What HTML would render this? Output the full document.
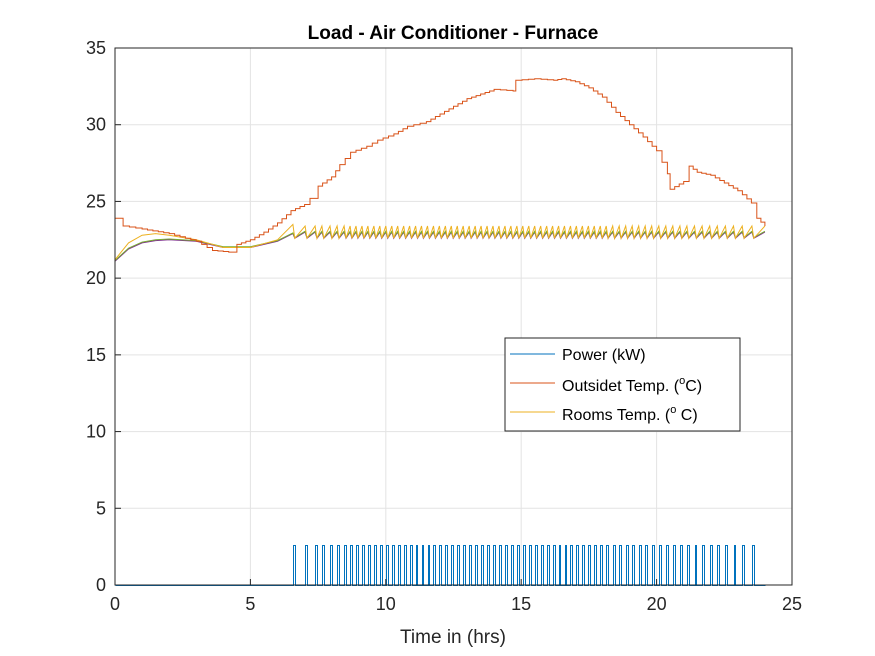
<!DOCTYPE html>
<html><head><meta charset="utf-8"><style>
body{margin:0;background:#fff;width:875px;height:656px;overflow:hidden}
svg{display:block;font-family:"Liberation Sans",Arial,sans-serif}
</style></head><body>
<svg id="chart" width="875" height="656" viewBox="0 0 875 656">
<rect x="0" y="0" width="875" height="656" fill="#fff"/>
<text x="453" y="39" text-anchor="middle" font-size="19" font-weight="bold" fill="#000">Load - Air Conditioner - Furnace</text>
<g id="grid"></g><g id="series"></g><g id="axes"></g>
<text x="453" y="643" text-anchor="middle" font-size="19" fill="#262626">Time in (hrs)</text>
<g>
<rect x="505" y="338" width="235" height="93" fill="#fff" stroke="#262626" stroke-width="1"/>
<g><line x1="510" y1="354" x2="555" y2="354" stroke="#0072BD"/><text x="562" y="360" font-size="16" fill="#000">Power (kW)</text></g>
<g><line x1="510" y1="383" x2="555" y2="383" stroke="#D95319"/><text x="562" y="391" font-size="16" fill="#000">Outsidet Temp. (<tspan dy="-7" font-size="11">o</tspan><tspan dy="7">C)</tspan></text></g>
<g><line x1="510" y1="412" x2="555" y2="412" stroke="#EDB120"/><text x="562" y="420" font-size="16" fill="#000">Rooms Temp. (<tspan dy="-7" font-size="11">o</tspan><tspan dy="7"> C)</tspan></text></g>
</g>
</svg>
<script>
const xTicks=[0,5,10,15,20,25];
const yTicks=[0,5,10,15,20,25,30,35];
const pulseTimes=[6.57,7.02,7.39,7.64,7.94,8.20,8.46,8.68,8.90,9.12,9.34,9.56,9.78,10.00,10.22,10.44,10.66,10.88,11.10,11.32,11.54,11.76,11.98,12.20,12.42,12.64,12.86,13.08,13.30,13.52,13.74,13.96,14.18,14.40,14.62,14.84,15.06,15.28,15.50,15.72,15.94,16.16,16.38,16.60,16.82,17.04,17.26,17.48,17.70,17.92,18.14,18.38,18.62,18.86,19.10,19.34,19.58,19.82,20.08,20.34,20.60,20.86,21.12,21.40,21.68,21.96,22.24,22.54,22.84,23.16,23.52];
const pulseHeight=2.6;
const pulseWidth=0.07;
const outsideT=[0,0.3,1,2,3,3.6,4.2,4.5,5,5.5,6,6.5,7,7.2,7.5,8,8.3,8.7,9.3,9.7,10.3,10.8,11.5,12,12.5,13,13.5,14,14.7,14.8,15.5,16.2,16.5,17,17.5,18,18.5,19,19.5,20,20.4,20.5,21,21.2,21.5,22,22.5,23,23.5,23.7,24];
const outsideV=[23.9,23.4,23.2,22.9,22.4,21.8,21.7,22.2,22.5,23.0,23.6,24.4,24.8,25.2,26.0,26.6,27.4,28.2,28.6,29.0,29.4,29.9,30.2,30.7,31.2,31.7,32.0,32.3,32.2,32.9,33.0,32.9,33.0,32.8,32.4,31.8,30.8,30.0,29.2,28.3,26.8,25.8,26.3,27.3,26.9,26.7,26.2,25.7,24.9,23.9,23.4];
const roomStartT=[0,0.5,1,1.5,2,3,4,5,6,6.57];
const roomYellowV=[21.2,22.3,22.8,22.9,22.8,22.5,22.0,22.0,22.5,23.5];
const roomDarkV=[21.1,21.9,22.3,22.45,22.5,22.4,22.0,22.0,22.4,22.9];
const yellowHigh=23.4, yellowLow=22.6, darkHigh=23.0, darkLow=22.6;

const X0=115,X1=792,Y0=585,Y1=48;
const xs=v=>X0+(v/25)*(X1-X0);
const ys=v=>Y0-(v/35)*(Y0-Y1);
const NS="http://www.w3.org/2000/svg";
function mk(tag,attrs,parent){const e=document.createElementNS(NS,tag);for(const k in attrs)e.setAttribute(k,attrs[k]);document.getElementById(parent).appendChild(e);return e;}

xTicks.forEach(t=>{
  const g=mk('line',{x1:xs(t),x2:xs(t),y1:Y1,y2:Y0,stroke:'#e3e3e3','stroke-width':1},'grid');
  
  
  const tk=mk('line',{x1:xs(t),x2:xs(t),y1:Y0,y2:Y0-6,stroke:'#262626'},'axes');
  
  
  const l=mk('text',{x:xs(t),y:Y0+25,'text-anchor':'middle','font-size':18,fill:'#262626'},'axes');
  l.textContent=t;
  
  
});
yTicks.forEach(t=>{
  const g=mk('line',{x1:X0,x2:X1,y1:ys(t),y2:ys(t),stroke:'#e3e3e3','stroke-width':1},'grid');
  
  
  const tk=mk('line',{x1:X0,x2:X0+6,y1:ys(t),y2:ys(t),stroke:'#262626'},'axes');
  
  
  const l=mk('text',{x:X0-9,y:ys(t)+6,'text-anchor':'end','font-size':18,fill:'#262626'},'axes');
  l.textContent=t;
  
  
});
const box=mk('rect',{x:X0,y:Y1,width:X1-X0,height:Y0-Y1,fill:'none',stroke:'#262626','stroke-width':1},'axes');



function poly(pts,color,name,snap){
  const f=snap?(v=>(Math.round(v)+0.5).toFixed(1)):(v=>v.toFixed(1));
  const p=mk('polyline',{points:pts.map(q=>f(xs(q[0]))+','+f(ys(q[1]))).join(' '),fill:'none',stroke:color,'stroke-width':1},'series');
  
  
}
function roomPts(startV,hi,lo){
  const pts=roomStartT.map((t,i)=>[t,startV[i]]);
  pulseTimes.forEach((t,i)=>{
    pts.push([t+pulseWidth,lo]);
    const nt=i+1<pulseTimes.length?pulseTimes[i+1]:24;
    pts.push([nt,hi]);
  });
  return pts;
}
poly(roomPts(roomDarkV,darkHigh,darkLow),'#7E2F8E','rooms-temp-line-2');
poly(roomPts(roomDarkV.map(v=>v+0.05),darkHigh+0.05,darkLow+0.05),'#77AC30','rooms-temp-line-3');
poly(roomPts(roomYellowV,yellowHigh,yellowLow),'#EDB120','rooms-temp-line');
const op=[];
outsideT.forEach((t,i)=>{
  if(i===0){op.push([t,outsideV[0]]);return;}
  const t0=outsideT[i-1],v0=outsideV[i-1];
  const n=Math.max(1,Math.round((t-t0)/0.2));
  for(let k=1;k<=n;k++){
    const tt=t0+(t-t0)*k/n, vv=v0+(outsideV[i]-v0)*k/n, vp=v0+(outsideV[i]-v0)*(k-1)/n;
    op.push([tt,vp],[tt,vv]);
  }
});
poly(op,'#D95319','outside-temp-line');
const pw=[[0,0]];
pulseTimes.forEach(t=>{pw.push([t,0],[t,pulseHeight],[t+pulseWidth,pulseHeight],[t+pulseWidth,0]);});
pw.push([24,0]);
poly(pw,'#0072BD','power-line',true);
</script>
</body></html>
